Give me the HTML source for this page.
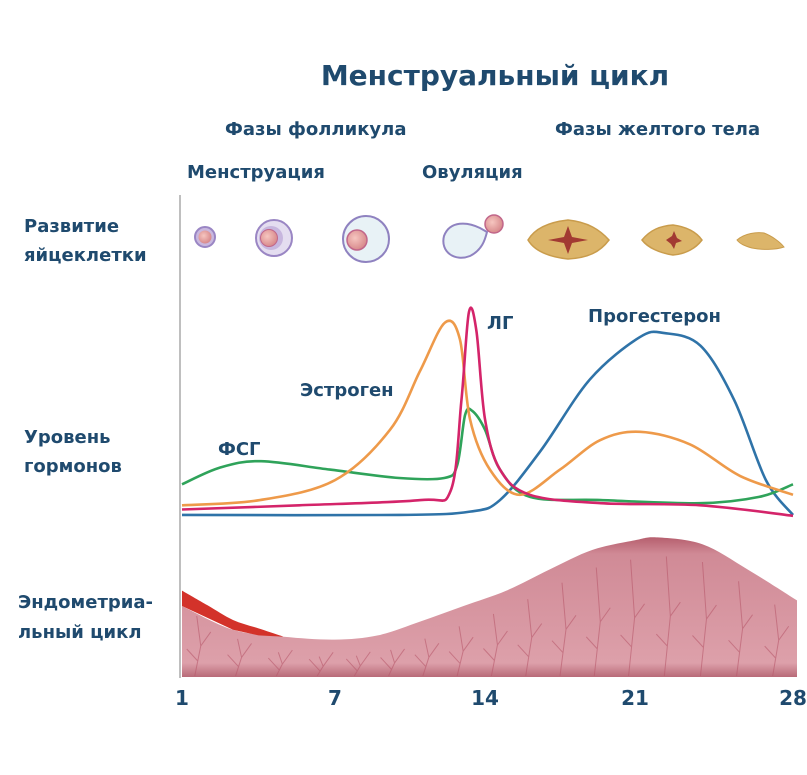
<!DOCTYPE html>
<html><head><meta charset="utf-8">
<style>
body{margin:0;background:#fff;}
svg{display:block;font-family:"DejaVu Sans","Liberation Sans",sans-serif;}
.t{fill:#1f4a6e;font-size:18px;font-weight:bold;}
</style></head>
<body>
<svg id="chart" width="807" height="775" viewBox="0 0 807 775">
<defs>
<linearGradient id="endoG" x1="0" y1="0" x2="0" y2="1">
<stop offset="0" stop-color="#b65f6e"/><stop offset="0.12" stop-color="#d08a96"/><stop offset="0.9" stop-color="#dda0aa"/><stop offset="1" stop-color="#b86a78"/>
</linearGradient>
<radialGradient id="pinkG" cx="0.4" cy="0.4" r="0.6"><stop offset="0" stop-color="#f6c6c0"/><stop offset="1" stop-color="#d88a8c"/></radialGradient>
</defs>
<text x="495" y="85" text-anchor="middle" class="t" style="font-size:28px">Менструальный цикл</text>
<text x="225" y="135" class="t">Фазы фолликула</text>
<text x="555" y="135" class="t">Фазы желтого тела</text>
<text x="187" y="178" class="t">Менструация</text>
<text x="422" y="178" class="t">Овуляция</text>
<text x="24" y="232" class="t">Развитие</text>
<text x="24" y="261" class="t">яйцеклетки</text>
<text x="24" y="443" class="t">Уровень</text>
<text x="24" y="472" class="t">гормонов</text>
<text x="18" y="608" class="t">Эндометриа-</text>
<text x="18" y="638" class="t">льный цикл</text>

<g>
<circle cx="205" cy="237" r="10" fill="#c9b8df" stroke="#9a86c4" stroke-width="2"/>
<circle cx="205" cy="237" r="6.5" fill="url(#pinkG)"/>
<circle cx="274" cy="238" r="18" fill="#e4ddf0" stroke="#9a86c4" stroke-width="2"/>
<circle cx="271" cy="238" r="12" fill="#c7b6de"/>
<circle cx="269" cy="238" r="8.5" fill="url(#pinkG)" stroke="#c1668a" stroke-width="1"/>
<circle cx="366" cy="239" r="23" fill="#e8f2f6" stroke="#8f82c0" stroke-width="2"/>
<circle cx="357" cy="240" r="10" fill="url(#pinkG)" stroke="#c1668a" stroke-width="1.5"/>
<path d="M480,228 C468,222 450,220 444,236 C440,252 455,262 470,256 C482,250 485,240 487,232 Z" fill="#e8f2f6" stroke="#8f82c0" stroke-width="2"/>
<circle cx="494" cy="224" r="9" fill="url(#pinkG)" stroke="#c1668a" stroke-width="1.5"/>
<path d="M528,240 C535,228 550,222 568,220 C588,222 600,230 609,240 C600,252 588,258 568,259 C550,257 535,252 528,240 Z" fill="#dcb56a" stroke="#c99c4c" stroke-width="1.5"/>
<path d="M548,240 L564,237 L568,226 L572,237 L588,240 L572,243 L568,254 L564,243 Z" fill="#a23a32"/>
<path d="M642,240 C650,230 660,226 673,225 C688,227 697,233 702,240 C696,248 686,254 673,255 C660,253 648,248 642,240 Z" fill="#dcb56a" stroke="#c99c4c" stroke-width="1.5"/>
<path d="M666,240 L672,236 L674,231 L677,238 L682,241 L676,243 L674,249 L671,244 Z" fill="#a23a32"/>
<path d="M737,240 C745,233 757,232 764,233 C772,236 780,242 784,247 C775,250 762,250 752,248 C745,246 740,244 737,240 Z" fill="#dcb56a" stroke="#c99c4c" stroke-width="1"/>
</g>

<line x1="180" y1="195" x2="180" y2="678" stroke="#aaa" stroke-width="1.5"/>
<g id="endo"></g>
<g id="curves"></g>
<g id="ticks"></g>

<text x="487" y="329" class="t">ЛГ</text>
<text x="588" y="322" class="t">Прогестерон</text>
<text x="300" y="396" class="t">Эстроген</text>
<text x="218" y="455" class="t">ФСГ</text>
</svg>
<script>
const tickDays=[1,7,14,21,28];
const tickLabels=["1","7","14","21","28"];
const estrogenDays=[1,4.06,7,9.57,10.97,12.13,12.83,13.3,14.23,15.63,17.5,19.37,21.22,23.44,25.65,28];
const estrogenVals=[0.07,0.095,0.19,0.43,0.71,0.94,0.86,0.48,0.24,0.12,0.24,0.38,0.42,0.36,0.21,0.12];
const lhDays=[1,5.6,11,12.4,12.9,13.25,13.6,14,14.7,16.1,19.4,23.9,28];
const lhVals=[0.05,0.07,0.095,0.14,0.57,0.99,0.9,0.48,0.24,0.12,0.08,0.07,0.02];
const fshDays=[1,2.5,4.1,6.8,10,12.1,12.7,13.07,13.4,14,14.7,16.1,19.4,23.9,26.5,28];
const fshVals=[0.17,0.25,0.28,0.24,0.2,0.2,0.26,0.5,0.52,0.43,0.24,0.11,0.095,0.08,0.11,0.17];
const progDays=[1,10,13.3,14.7,16.6,18.9,21.2,22.3,23.9,25.4,26.8,28];
const progVals=[0.024,0.024,0.04,0.095,0.33,0.67,0.87,0.89,0.83,0.57,0.19,0.024];
const endoDays=[1,3,5,7,9,11,13,15,17,19,21,22,24,26,28];
const endoVals=[0.61,0.4,0.28,0.26,0.29,0.39,0.5,0.61,0.76,0.9,0.97,0.99,0.94,0.76,0.54];
const bloodDays=[1,2,3,4,5];
const bloodVals=[0.11,0.09,0.07,0.05,0];

const tickX=[182,335,485,635,793];
function xScale(d){
  if(d<=tickDays[0])return tickX[0]+(d-tickDays[0])*25;
  for(let i=0;i<tickDays.length-1;i++){
    if(d<=tickDays[i+1]){return tickX[i]+(d-tickDays[i])/(tickDays[i+1]-tickDays[i])*(tickX[i+1]-tickX[i]);}
  }
  return tickX[tickX.length-1]+(d-28)*22;
}
function yScale(v){return 520-v*210;}
function eScale(v){return 676-v*140;}
const NS="http://www.w3.org/2000/svg";
function smooth(pts){
  let d="M"+pts[0][0]+","+pts[0][1];
  for(let i=0;i<pts.length-1;i++){
    const p0=pts[Math.max(i-1,0)],p1=pts[i],p2=pts[i+1],p3=pts[Math.min(i+2,pts.length-1)];
    const c1=[p1[0]+(p2[0]-p0[0])/6,p1[1]+(p2[1]-p0[1])/6];
    const c2=[p2[0]-(p3[0]-p1[0])/6,p2[1]-(p3[1]-p1[1])/6];
    d+=" C"+c1[0]+","+c1[1]+" "+c2[0]+","+c2[1]+" "+p2[0]+","+p2[1];
  }
  return d;
}
function interp(ds,vs,d){for(let i=0;i<ds.length-1;i++){if(d<=ds[i+1]){const t=(d-ds[i])/(ds[i+1]-ds[i]);return vs[i]+t*(vs[i+1]-vs[i]);}}return vs[vs.length-1];}
const curves=document.getElementById('curves');
function drawCurve(days,vals,color,name){
  const pts=days.map((d,i)=>[xScale(d),yScale(vals[i])]);
  const p=document.createElementNS(NS,'path');
  p.setAttribute('d',smooth(pts));
  p.setAttribute('fill','none');p.setAttribute('stroke',color);p.setAttribute('stroke-width','2.6');
  
  
  curves.appendChild(p);
}
drawCurve(progDays,progVals,'#2f73a8','progesterone-line');
drawCurve(fshDays,fshVals,'#2fa35a','fsh-line');
drawCurve(estrogenDays,estrogenVals,'#ee9a4a','estrogen-line');
drawCurve(lhDays,lhVals,'#d4246a','lh-line');

const endo=document.getElementById('endo');
const x0=xScale(1)-2,x1=xScale(28)+4;
const upper=bloodDays.map((d,i)=>[xScale(d),eScale(interp(endoDays,endoVals,d))]);
upper[0][0]=x0+2;
const lower=bloodDays.map((d,i)=>[xScale(d),eScale(interp(endoDays,endoVals,d)-bloodVals[i])]);
lower[0][0]=x0+2;
const bd=smooth(upper)+" L"+lower.slice().reverse().map(p=>p[0]+","+p[1]).join(" L")+" Z";
const pinkPts=endoDays.map((d,i)=>{const b=d<5?interp(bloodDays,bloodVals,d):0;return [xScale(d),eScale(endoVals[i]-b)];});
pinkPts[0][0]=x0+2;pinkPts[pinkPts.length-1][0]=x1;
const body=document.createElementNS(NS,'path');
body.setAttribute('d',smooth(pinkPts)+" L"+x1+",677 L"+(x0+2)+",677 Z");
body.setAttribute('fill','url(#endoG)');


endo.appendChild(body);
const blood=document.createElementNS(NS,'path');
blood.setAttribute('d',bd);blood.setAttribute('fill','#d3322a');


endo.appendChild(blood);
let vd="";
for(let d=1.5;d<28;d+=1.6){
  const x=xScale(d),top=eScale(interp(endoDays,endoVals,d))+18;
  if(top>665)continue;
  const mid=(top+676)/2;
  vd+=`M${x},676 L${x+6},${mid} L${x+2},${top} M${x+6},${mid} L${x+16},${mid-14} M${x+3},${(mid+676)/2} L${x-8},${(mid+676)/2-12} `;
}
const vess=document.createElementNS(NS,'path');
vess.setAttribute('d',vd);vess.setAttribute('stroke','#b8586a');vess.setAttribute('stroke-width','1');vess.setAttribute('fill','none');vess.setAttribute('opacity','0.6');


endo.appendChild(vess);

const ticks=document.getElementById('ticks');
tickDays.forEach((d,i)=>{
  const t=document.createElementNS(NS,'text');
  t.setAttribute('x',xScale(d));t.setAttribute('y',705);
  t.setAttribute('text-anchor','middle');t.setAttribute('class','t');
  t.setAttribute('style','font-size:20px');
  t.textContent=tickLabels[i];
  
  
  ticks.appendChild(t);
});
</script>
</body></html>
